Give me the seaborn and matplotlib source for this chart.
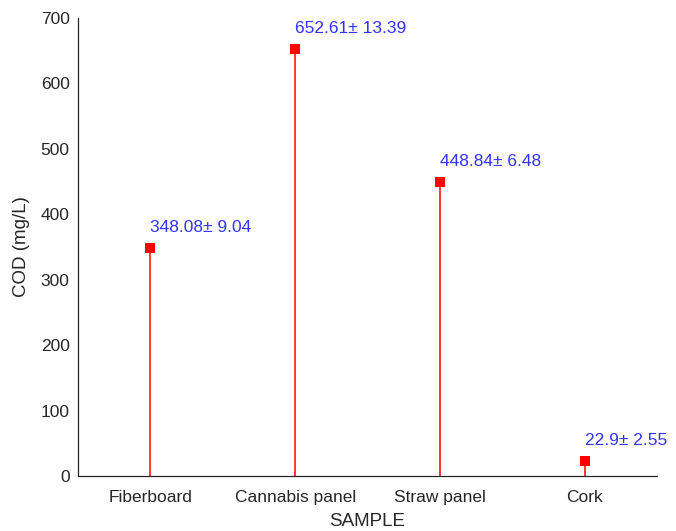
import matplotlib
matplotlib.use('Agg')
import matplotlib.pyplot as plt
import seaborn as sns
import pandas as pd

# data
samples = ['Fiberboard', 'Cannabis panel', 'Straw panel', 'Cork']
cod = [348.08, 652.61, 448.84, 22.9]
sd = ['9.04', '13.39', '6.48', '2.55']
cod_txt = ['348.08', '652.61', '448.84', '22.9']

df = pd.DataFrame({'sample': samples, 'cod': cod, 'pos': range(1, len(samples) + 1)})

sns.set_style('white')
plt.rcParams['font.family'] = ['Liberation Sans', 'DejaVu Sans']

fig = plt.figure(figsize=(6.76, 5.31), dpi=100)
ax = fig.add_axes([0.1154, 0.1036, 0.972 - 0.1154, 0.966 - 0.1036])

# stems
ax.vlines(df['pos'], 0, df['cod'], color='#ff0000', linewidth=1.1, zorder=2)
# markers
sns.scatterplot(data=df, x='pos', y='cod', marker='s', s=55, color='#ff0000',
                edgecolor='#ff0000', linewidth=0, ax=ax, zorder=3, legend=False)

# value labels
for p, v, t, e in zip(df['pos'], cod, cod_txt, sd):
    ax.text(p, v + 32, f'{t}\u00b1 {e}', color='#3333ff', fontsize=12.5,
            ha='left', va='center')

ax.set_xlim(0.5, 4.5)
ax.set_ylim(0, 700)
ax.set_xticks(df['pos'])
ax.set_xticklabels(samples)
ax.set_yticks(range(0, 701, 100))

for s in ['top', 'right']:
    ax.spines[s].set_visible(False)
for s in ['left', 'bottom']:
    ax.spines[s].set_color('#262626')
    ax.spines[s].set_linewidth(0.9)

ax.tick_params(axis='y', direction='in', length=4, width=0.9, colors='#262626',
               labelsize=12.5, pad=6)
ax.tick_params(axis='x', length=0, colors='#262626', labelsize=12.5, pad=10)

ax.set_xlabel('SAMPLE', fontsize=13.5, color='#262626', labelpad=6)
ax.set_ylabel('COD (mg/L)', fontsize=13.5, color='#262626', labelpad=8)

fig.savefig('out.png', dpi=100)
